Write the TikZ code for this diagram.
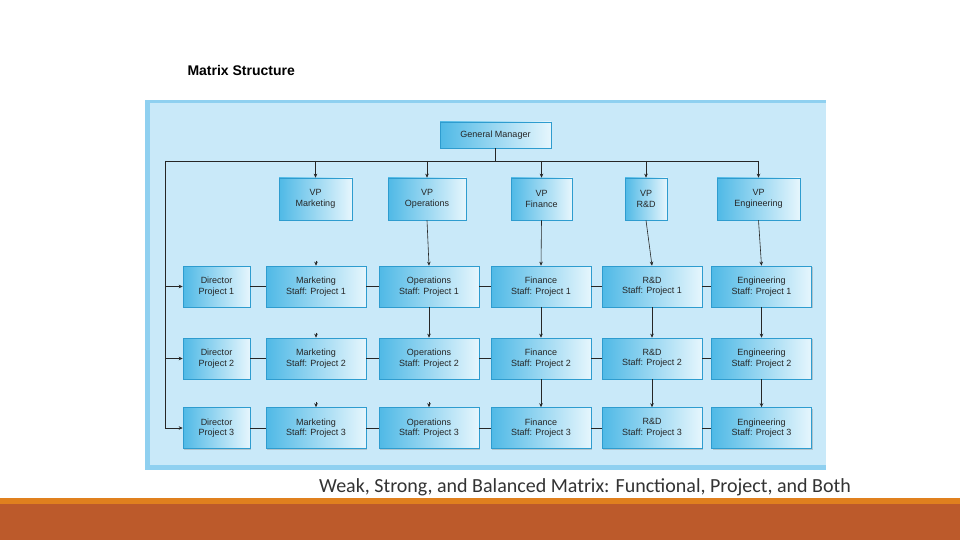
\documentclass[tikz,border=0pt]{standalone}
\usepackage{fontspec}
\setmainfont{Liberation Sans}
\newfontfamily\capfont{Carlito}
\usetikzlibrary{shadows,arrows.meta}
\definecolor{panel}{HTML}{C9E9F9}
\definecolor{edge}{HTML}{8FD0F0}
\definecolor{bdark}{HTML}{4FB9E6}
\definecolor{blight}{HTML}{E6F6FD}
\definecolor{bord}{HTML}{2E9CCF}
\definecolor{orng}{HTML}{E0801E}
\definecolor{brwn}{HTML}{BC5A2B}
\begin{document}
\begin{tikzpicture}[x=1pt,y=-1pt,
 box/.style={draw=bord,line width=0.6pt,left color=bdark,right color=blight,
   minimum height=#1,align=center,inner sep=1pt,font=\fontsize{9}{10.5}\selectfont,text=black!85,
   drop shadow={shadow xshift=1pt,shadow yshift=-1pt,opacity=0.35}},
 box/.default=41pt,
 ln/.style={line width=0.6pt,black!85},
 ar/.style={ln,-{Stealth[length=4pt,width=3.5pt]}}]
\useasboundingbox (0,0) rectangle (960,540);
\fill[white] (0,0) rectangle (960,540);
\fill[edge] (145,100) rectangle (826,470);
\fill[panel] (150,103) rectangle (826,465);
\fill[orng] (0,498) rectangle (960,504);
\fill[brwn] (0,504) rectangle (960,540);
\node[anchor=west,font=\bfseries\fontsize{14}{16}\selectfont] (title) at (184,70) {Matrix Structure};
\node[font=\capfont\fontsize{20}{22}\selectfont,text=black!80] (cap) at (585,487) {Weak, Strong, and Balanced Matrix: Functional, Project, and Both};
\node[box=26pt,minimum width=111pt] (gm) at (495.5,135) {General Manager};
\foreach \n/\x/\w/\t in {m/315.5/73/Marketing,o/427/78/Operations,f/541.5/61/Finance,r/646/42/R\&D,e/758.5/83/Engineering}
  \node[box=42pt,minimum width=\w pt] (v\n) at (\x,199) {VP\\\t};
\foreach \r/\y in {1/286.5,2/358.5,3/428}{
  \node[box,minimum width=67pt] (d\r) at (216.5,\y) {Director\\Project \r};
  \foreach \n/\x/\t in {m/316/Marketing,o/429/Operations,f/541/Finance,r/652/R\&D,e/761.5/Engineering}
    \node[box,minimum width=100pt] (s\n\r) at (\x,\y) {\t\\Staff: Project \r};
  \draw[ln] (d\r) -- (sm\r) -- (so\r) -- (sf\r) -- (sr\r) -- (se\r);
}
\coordinate (j) at (495.5,161);
\coordinate (jl) at (165,161);
\coordinate (jr) at (758.5,161);
\draw[ln] (gm.south) -- (j);
\draw[ln] (jl) -- (jr);
\foreach \n in {m,o,f,r,e} \draw[ar] (jl -| v\n) -- (v\n.north);
\draw[ln] (jl) -- (jl |- d3);
\foreach \r in {1,2,3} \draw[ar] (jl |- d\r) -- (d\r.west);
\foreach \n in {o,f,r,e} \draw[ar] (v\n.south) -- (s\n1.north);
\foreach \n in {o,f,r,e} \draw[ar] (s\n1.south) -- (s\n2.north);
\foreach \n in {f,r,e} \draw[ar] (s\n2.south) -- (s\n3.north);
\foreach \r in {1,2,3} \draw[ar] ([yshift=5pt]sm\r.north) -- (sm\r.north);
\draw[ar] ([yshift=5pt]so3.north) -- (so3.north);
\end{tikzpicture}
\end{document}
